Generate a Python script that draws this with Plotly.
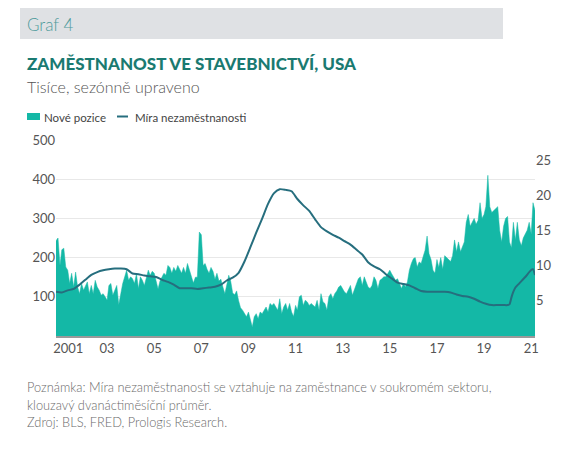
import pandas as pd
import plotly.graph_objects as go

# ---------------- data ----------------
start_month = "2000-12-01"
new_positions = [
    243, 250, 180, 220, 224, 176, 168, 134, 160, 125, 163, 125,   # m0-11
    108, 134, 117, 129, 138, 108, 129, 108, 142, 125, 117, 104,   # m12-23
    108, 100, 91, 129, 134, 104, 117, 129, 80, 108, 134, 151,     # m24-35
    168, 142, 151, 146, 134, 159, 121, 151, 142, 129, 151, 168,   # m36-47
    155, 165, 160, 140, 120, 140, 150, 160, 155, 180, 175, 160,   # m48-59
    175, 165, 180, 170, 160, 175, 160, 185, 170, 150, 135, 150,   # m60-71
    150, 265, 258, 180, 185, 170, 160, 175, 165, 145, 160, 140,   # m72-83
    145, 125, 108, 130, 155, 140, 110, 105, 115, 90, 72, 66,      # m84-95
    57, 49, 61, 44, 23, 49, 57, 44, 61, 57, 66, 74,               # m96-107
    61, 83, 78, 83, 74, 66, 95, 57, 74, 83, 66, 83,               # m108-119
    61, 50, 78, 66, 100, 104, 78, 91, 87, 78, 83, 78,             # m120-131
    74, 91, 66, 108, 87, 83, 66, 100, 108, 95, 108, 115,          # m132-143
    125, 129, 121, 112, 108, 117, 129, 104, 117, 134, 146, 151,   # m144-155
    129, 151, 138, 125, 121, 129, 151, 142, 121, 142, 146, 151,   # m156-167
    151, 159, 168, 159, 151, 142, 146, 134, 121, 134, 125, 138,   # m168-179
    168, 185, 197, 200, 176, 189, 185, 202, 219, 255, 210, 195,   # m180-191
    168, 160, 195, 175, 200, 170, 205, 200, 195, 190, 205, 245,   # m192-203
    215, 240, 215, 225, 240, 290, 310, 280, 290, 300, 285, 295,   # m204-215
    340, 300, 310, 330, 410, 330, 315, 320, 325, 330, 270, 240,   # m216-227
    280, 300, 305, 240, 225, 290, 245, 290, 245, 230, 250, 260,   # m228-239
    270, 290, 260, 340, 320,                                      # m240-244
]

# unemployment rate (12-month moving average), read at selected months
unemp_month_index = [
    0, 3, 6, 9, 12, 15, 18, 21, 24, 27, 30, 33, 36, 39, 42, 45, 48, 51, 54, 57,
    60, 63, 66, 69, 72, 75, 78, 81, 84, 87, 90, 93, 96, 99, 102, 105, 108, 111,
    114, 117, 120, 123, 126, 129, 132, 135, 138, 141, 144, 147, 150, 153, 156,
    159, 162, 165, 168, 171, 174, 177, 180, 183, 186, 189, 192, 195, 198, 201,
    204, 207, 210, 213, 216, 219, 222, 225, 228, 230, 231, 232, 233, 234, 236,
    239, 242, 243, 244,
]
unemp_rate = [
    6.3, 6.2, 6.5, 6.7, 7.3, 8.0, 8.7, 9.1, 9.35, 9.5, 9.6, 9.6, 9.5, 8.9, 8.8,
    8.6, 8.5, 8.4, 8.0, 7.7, 7.3, 6.8, 6.8, 6.8, 6.7, 6.8, 6.9, 7.0, 7.3, 7.9,
    8.3, 9.0, 10.6, 12.6, 14.7, 16.7, 18.8, 20.3, 20.9, 20.8, 20.6, 19.5, 18.6,
    17.8, 16.6, 15.5, 14.9, 14.4, 14.0, 13.5, 13.0, 12.3, 11.6, 10.5, 9.9, 9.5,
    8.8, 8.2, 7.6, 7.4, 7.2, 6.8, 6.4, 6.3, 6.3, 6.3, 6.3, 6.2, 5.9, 5.7, 5.6,
    5.3, 4.9, 4.6, 4.4, 4.4, 4.4, 4.4, 4.5, 5.5, 6.3, 6.9, 7.5, 8.4, 9.4, 9.5,
    8.7,
]

tick_dates = ["2001-06-10", "2003-02-01", "2005-02-01", "2007-02-01", "2009-02-01",
              "2011-02-01", "2013-02-01", "2015-02-01", "2017-02-01", "2019-02-01",
              "2021-02-01"]
tick_labels = ["2001", "03", "05", "07", "09", "11", "13", "15", "17", "19", "21"]

title_text = "ZAMĚSTNANOST VE STAVEBNICTVÍ, USA"
subtitle_text = "Tisíce, sezónně upraveno"
graf_text = "Graf 4"
legend_labels = ["Nové pozice", "Míra nezaměstnanosti"]
note_lines = [
    "Poznámka: Míra nezaměstnanosti se vztahuje na zaměstnance v soukromém sektoru,",
    "klouzavý dvanáctiměsíční průměr.",
    "Zdroj: BLS, FRED, Prologis Research.",
]

# ---------------- build ----------------
dates = pd.date_range(start_month, periods=len(new_positions), freq="MS")
unemp_dates = [dates[i] for i in unemp_month_index]

AREA = "#14b8a6"
LINE = "#266e7e"
FONT = "Lato"

OFF = 8  # page body margin
W, H = 581 - OFF, 460 - OFF
L, R, T, B = 56 - OFF, 535 - OFF, 140 - OFF, 336 - OFF  # plot area in figure pixels


def px(x):  # x in window pixels -> paper
    return (x - OFF - L) / (R - L)


def py(y):
    return (B - (y - OFF)) / (B - T)


fig = go.Figure()
fig.add_trace(go.Scatter(
    x=dates, y=new_positions, mode="lines", fill="tozeroy",
    line=dict(color=AREA, width=0.5), fillcolor=AREA,
    name=legend_labels[0], showlegend=False, hoverinfo="skip",
))
fig.add_trace(go.Scatter(
    x=unemp_dates, y=unemp_rate, mode="lines", yaxis="y2",
    line=dict(color=LINE, width=2, shape="spline", smoothing=0.6),
    name=legend_labels[1], showlegend=False, hoverinfo="skip",
))

shapes = [
    dict(type="rect", xref="paper", yref="paper", x0=px(20), x1=px(503),
         y0=py(39), y1=py(8), fillcolor="#dfe1e4", line=dict(width=0), layer="below"),
    dict(type="rect", xref="paper", yref="paper", x0=px(27), x1=px(40),
         y0=py(120), y1=py(113), fillcolor=AREA, line=dict(width=0)),
    dict(type="line", xref="paper", yref="paper", x0=px(117), x1=px(128),
         y0=py(116.5), y1=py(116.5), line=dict(color=LINE, width=2)),
]

ann = []


def text(x, y, s, size, color, weight="normal", anchor="left"):
    ann.append(dict(xref="paper", yref="paper", x=px(x), y=py(y), text=s,
                    showarrow=False, xanchor=anchor, yanchor="middle",
                    font=dict(family=FONT, size=size, color=color, weight=weight)))


text(25, 24, graf_text, 17, "#4f9b9c", weight=300)
text(25, 63, title_text, 17, "#1a7a71", weight=900)
text(25, 86, subtitle_text, 16, "#555555", weight=300)
text(42, 117, legend_labels[0], 11.5, "#444444")
text(133, 117, legend_labels[1], 11.5, "#444444")
for i, line in enumerate(note_lines):
    text(25, 387 + i * 17.5, line, 12.8, "#6a6a6a", weight=300)

fig.update_layout(
    width=W, height=H, margin=dict(l=L, r=W - R, t=T, b=H - B),
    paper_bgcolor="white", plot_bgcolor="white",
    font=dict(family=FONT, size=13, color="#555555"),
    shapes=shapes, annotations=ann,
    xaxis=dict(range=[dates[0], dates[-1]], tickvals=tick_dates, ticktext=tick_labels,
               showgrid=False, showline=True, linecolor="#9a9a9a", linewidth=1.5,
               ticks="", zeroline=False, tickfont=dict(size=13, color="#555555")),
    yaxis=dict(range=[0, 500], tickvals=[100, 200, 300, 400, 500],
               showgrid=True, gridcolor="#e8e8e8", gridwidth=1, zeroline=False,
               ticks="", tickfont=dict(size=13, color="#555555")),
    yaxis2=dict(range=[0, 27.9], tickvals=[5, 10, 15, 20, 25], overlaying="y",
                side="right", showgrid=False, zeroline=False, ticks="",
                tickfont=dict(size=13, color="#555555")),
)

fig.write_html("out.html")
